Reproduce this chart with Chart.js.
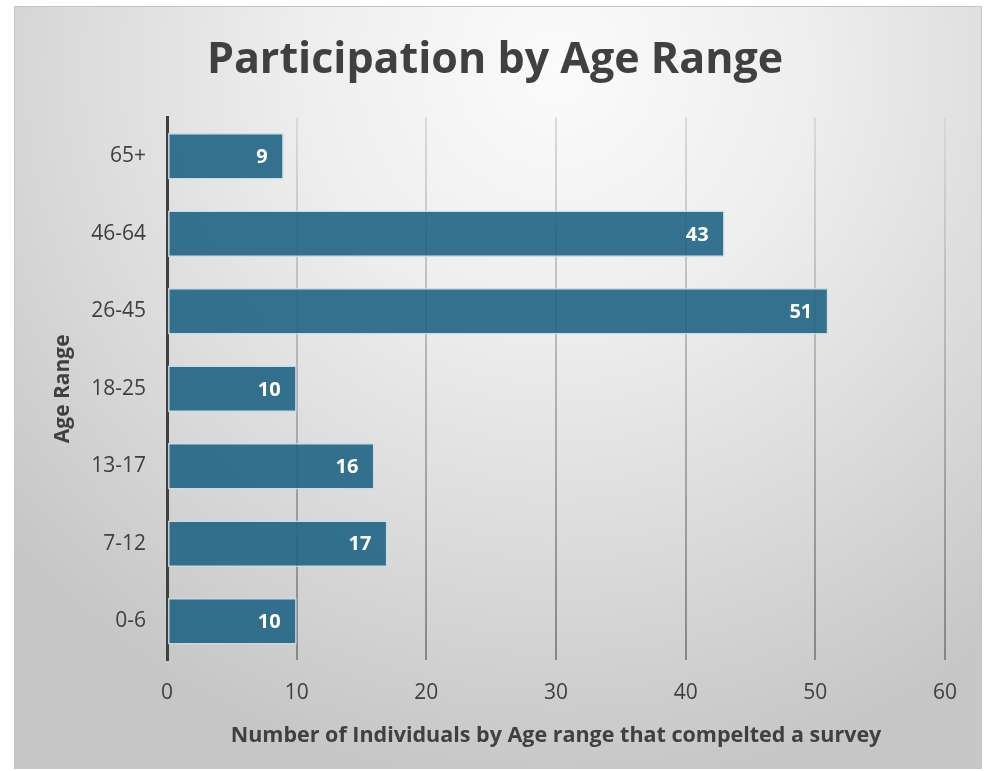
<!DOCTYPE html>
<html>
<head>
<meta charset="utf-8">
<title>Participation by Age Range</title>
<script src="https://cdn.jsdelivr.net/npm/chart.js@4.4.1/dist/chart.umd.min.js"></script>
<style>
  html, body { margin: 0; padding: 0; background: #fff; }
  #wrap { position: relative; width: 990px; height: 771px; }
  #panel {
    position: absolute; left: 14px; top: 6px; width: 968px; height: 763px;
    border: 1.5px solid #c4c4c4; box-sizing: border-box;
    background: radial-gradient(ellipse 75% 95% at 56% 8%, #fbfbfb 0%, #eeeeee 35%, #d9d9d9 70%, #c6c6c6 100%);
  }
  #myChart { position: absolute; left: 0; top: 0; }
</style>
</head>
<body>
<div id="wrap">
  <div id="panel"></div>
  <canvas id="myChart" width="990" height="771"></canvas>
</div>
<script>
const ageRanges = ['65+', '46-64', '26-45', '18-25', '13-17', '7-12', '0-6'];
const participants = [9, 43, 51, 10, 16, 17, 10];
const xTicks = [0, 10, 20, 30, 40, 50, 60];

const textColor = '#404040';
const fontFamily = '"Open Sans", "Noto Sans", sans-serif';

// gridlines fade from light at the top to darker grey at the bottom
function gridColor(ctx) {
  const chart = ctx.chart;
  const area = chart.chartArea;
  if (!area) return '#aaa';
  const g = chart.ctx.createLinearGradient(0, area.top, 0, area.bottom);
  g.addColorStop(0, 'rgba(215,215,215,0.9)');
  g.addColorStop(0.5, 'rgba(170,170,170,0.9)');
  g.addColorStop(1, 'rgba(130,130,130,0.95)');
  return g;
}

// white value labels inside the bar ends
const barLabels = {
  id: 'barLabels',
  afterDatasetsDraw(chart) {
    const ctx = chart.ctx;
    const meta = chart.getDatasetMeta(0);
    ctx.save();
    ctx.fillStyle = '#ffffff';
    ctx.font = 'bold 20px ' + fontFamily;
    ctx.textAlign = 'right';
    ctx.textBaseline = 'middle';
    meta.data.forEach((bar, i) => {
      ctx.fillText(String(participants[i]), bar.x - 16, bar.y + 1);
    });
    ctx.restore();
  }
};

new Chart(document.getElementById('myChart').getContext('2d'), {
  type: 'bar',
  data: {
    labels: ageRanges,
    datasets: [{
      data: participants,
      backgroundColor: 'rgba(31,100,132,0.9)',
      borderColor: 'rgba(200,220,230,0.9)',
      borderWidth: 1.5,
      borderSkipped: false,
      categoryPercentage: 1,
      barPercentage: 0.6
    }]
  },
  options: {
    indexAxis: 'y',
    responsive: false,
    animation: false,
    layout: { padding: 0 },
    plugins: {
      legend: { display: false },
      tooltip: { enabled: false },
      title: {
        display: true,
        text: 'Participation by Age Range',
        color: textColor,
        font: { family: fontFamily, size: 43, weight: 'bold', lineHeight: 1.2 },
        padding: { top: 35, bottom: 31 }
      }
    },
    scales: {
      x: {
        min: 0,
        max: 60,
        afterBuildTicks(scale) {
          scale.ticks = xTicks.map(v => ({ value: v }));
        },
        afterFit(scale) { scale.height = 111; },
        grid: { color: gridColor, lineWidth: 2, drawTicks: false },
        border: { display: false },
        ticks: { color: textColor, padding: 20, font: { family: fontFamily, size: 21 } },
        title: {
          display: true,
          text: 'Number of Individuals by Age range that compelted a survey',
          color: textColor,
          font: { family: fontFamily, size: 21.5, weight: 'bold' },
          padding: { top: 0, bottom: 22 }
        }
      },
      y: {
        afterFit(scale) { scale.width = 167; },
        grid: { display: false, drawTicks: false },
        border: { display: true, color: '#404040', width: 3 },
        ticks: { color: textColor, padding: 21, font: { family: fontFamily, size: 21 } },
        title: {
          display: true,
          text: 'Age Range',
          color: textColor,
          font: { family: fontFamily, size: 21, weight: 'bold' },
          padding: { top: 50, bottom: 0 }
        }
      },
      // empty right-hand gutter so the plot ends at 60 with margin to spare
      gutter: {
        axis: 'y',
        position: 'right',
        afterFit(scale) { scale.width = 45; },
        grid: { display: false, drawTicks: false },
        border: { display: false },
        ticks: { display: false }
      }
    }
  },
  plugins: [barLabels]
});
</script>
</body>
</html>
